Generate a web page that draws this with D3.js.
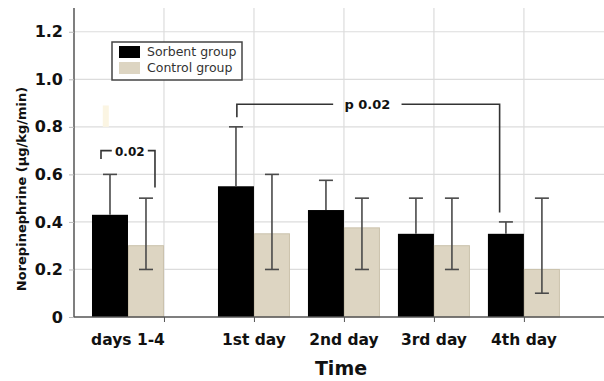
<!DOCTYPE html>
<html>
<head>
<meta charset="utf-8">
<script src="https://cdn.jsdelivr.net/npm/d3@7"></script>
<style>
  body { margin: 0; background: #fff; }
  svg { display: block; font-family: "DejaVu Sans", sans-serif; }
</style>
</head>
<body>
<svg id="chart" width="604" height="381"></svg>
<script>
// Data
const categories = ['days 1-4', '1st day', '2nd day', '3rd day', '4th day'];
const catPos = [-0.4, 1, 2, 3, 4];           // position on the time axis
const sorbent = [0.43, 0.55, 0.45, 0.35, 0.35];
const sorbentErrHi = [0.60, 0.80, 0.575, 0.50, 0.40];
const control = [0.30, 0.35, 0.375, 0.30, 0.20];
const controlErrLo = [0.20, 0.20, 0.20, 0.20, 0.10];
const controlErrHi = [0.50, 0.60, 0.50, 0.50, 0.50];
const yTicks = [0, 0.2, 0.4, 0.6, 0.8, 1.0, 1.2];
const xGrid = [0, 1, 2, 3, 4];
const seriesNames = ['Sorbent group', 'Control group'];

const colors = { sorbent: '#000000', control: '#ddd5c2', controlEdge: '#cbc2ac', err: '#4a4a4a' };

const svg = d3.select('#chart');
const margin = { left: 74, right: 0, top: 8, bottom: 64 };
const W = 604, H = 381;

const x = d3.scaleLinear().domain([-1, 4.89]).range([margin.left, W]);
const y = d3.scaleLinear().domain([0, 1.3]).range([H - margin.bottom, margin.top]);
const barW = x(0.4) - x(0);

// Grid
const grid = svg.append('g');
grid.selectAll('line.h')
    .data(yTicks.filter(d => d > 0))
    .enter().append('line')
    .attr('x1', x(-1)).attr('x2', W)
    .attr('y1', d => y(d)).attr('y2', d => y(d))
    .attr('stroke', '#dcdcdc').attr('stroke-width', 1.2);
grid.selectAll('line.v')
    .data(xGrid)
    .enter().append('line')
    .attr('x1', d => x(d)).attr('x2', d => x(d))
    .attr('y1', y(0)).attr('y2', y(1.3))
    .attr('stroke', '#dcdcdc').attr('stroke-width', 1.2);

// faint smudge in the original scan
svg.append('rect')
    .attr('x', x(-0.68)).attr('y', y(0.89))
    .attr('width', 6).attr('height', y(0.8) - y(0.89))
    .attr('fill', '#fbf5e3');

// Bars
const bars = svg.append('g');
bars.selectAll('rect.s')
    .data(sorbent)
    .enter().append('rect')
    .attr('x', (d, i) => x(catPos[i] - 0.4))
    .attr('y', d => y(d))
    .attr('width', barW)
    .attr('height', d => y(0) - y(d))
    .attr('fill', colors.sorbent);
bars.selectAll('rect.c')
    .data(control)
    .enter().append('rect')
    .attr('x', (d, i) => x(catPos[i]) + 0.5)
    .attr('y', d => y(d))
    .attr('width', barW - 1)
    .attr('height', d => y(0) - y(d))
    .attr('fill', colors.control)
    .attr('stroke', colors.controlEdge)
    .attr('stroke-width', 1);

// Error bars
const capW = 14;
const errs = svg.append('g').attr('stroke', colors.err).attr('stroke-width', 1.6).attr('fill', 'none');
sorbent.forEach((v, i) => {
    const cx = x(catPos[i] - 0.2);
    errs.append('line').attr('x1', cx).attr('x2', cx).attr('y1', y(v)).attr('y2', y(sorbentErrHi[i]));
    errs.append('line').attr('x1', cx - capW / 2).attr('x2', cx + capW / 2)
        .attr('y1', y(sorbentErrHi[i])).attr('y2', y(sorbentErrHi[i]));
});
control.forEach((v, i) => {
    const cx = x(catPos[i] + 0.2);
    errs.append('line').attr('x1', cx).attr('x2', cx).attr('y1', y(controlErrLo[i])).attr('y2', y(controlErrHi[i]));
    [controlErrLo[i], controlErrHi[i]].forEach(e => {
        errs.append('line').attr('x1', cx - capW / 2).attr('x2', cx + capW / 2)
            .attr('y1', y(e)).attr('y2', y(e));
    });
});

// Axes
const yAxis = svg.append('g')
    .attr('transform', `translate(${x(-1)},0)`)
    .call(d3.axisLeft(y).tickValues(yTicks).tickSize(5).tickPadding(6)
        .tickFormat(d => d === 0 ? '0' : d3.format('.1f')(d)));
yAxis.select('.domain').attr('d', `M0,${y(0)}V${y(1.3)}`).attr('stroke', '#555').attr('stroke-width', 1.5);
yAxis.selectAll('.tick line').attr('stroke', '#bbb');
yAxis.selectAll('.tick text')
    .attr('font-size', 16).attr('font-weight', 'bold').attr('fill', '#111')
    .attr('font-family', '"DejaVu Sans", sans-serif');

const xAxis = svg.append('g')
    .attr('transform', `translate(0,${y(0)})`)
    .call(d3.axisBottom(x).tickValues(xGrid).tickSize(5).tickFormat(''));
xAxis.select('.domain').attr('d', `M${x(-1)},0H${W}`).attr('stroke', '#555').attr('stroke-width', 1.5);
xAxis.selectAll('.tick line').attr('stroke', '#555');

svg.append('g').selectAll('text')
    .data(categories)
    .enter().append('text')
    .attr('x', (d, i) => x(catPos[i]))
    .attr('y', 345)
    .attr('text-anchor', 'middle')
    .attr('font-size', 15.5).attr('font-weight', 'bold').attr('fill', '#111')
    .text(d => d);

svg.append('text')
    .attr('x', 341).attr('y', 375)
    .attr('text-anchor', 'middle')
    .attr('font-size', 19).attr('font-weight', 'bold').attr('fill', '#111')
    .text('Time');

svg.append('text')
    .attr('transform', 'translate(26,189) rotate(-90)')
    .attr('text-anchor', 'middle')
    .attr('font-size', 13).attr('font-weight', 'bold').attr('fill', '#111')
    .text('Norepinephrine (µg/kg/min)');

// Significance brackets
const br = svg.append('g').attr('stroke', '#333').attr('stroke-width', 1.6).attr('fill', 'none');
function bracket(x1, x2, top, lo1, lo2, label, gap1, gap2, fs) {
    br.append('path').attr('d', `M${x(x1)},${y(lo1)}V${y(top)}H${x(gap1)}`);
    br.append('path').attr('d', `M${x(gap2)},${y(top)}H${x(x2)}V${y(lo2)}`);
    svg.append('text')
        .attr('x', (x(gap1) + x(gap2)) / 2).attr('y', y(top) + 5)
        .attr('text-anchor', 'middle')
        .attr('font-size', fs).attr('font-weight', 'bold').attr('fill', '#111')
        .text(label);
}
bracket(-0.7, -0.1, 0.70, 0.665, 0.545, '0.02', -0.58, -0.18, 12);
bracket(0.81, 3.73, 0.895, 0.84, 0.44, 'p 0.02', 1.88, 2.64, 13);

// Legend
const lg = svg.append('g').attr('transform', 'translate(112,42)');
lg.append('rect').attr('width', 130).attr('height', 38)
    .attr('fill', '#fff').attr('stroke', '#444').attr('stroke-width', 1.5);
const legendColors = [colors.sorbent, colors.control];
seriesNames.forEach((name, i) => {
    lg.append('rect').attr('x', 7).attr('y', 4 + i * 16).attr('width', 21).attr('height', 12)
        .attr('fill', legendColors[i]);
    lg.append('text').attr('x', 35).attr('y', 14 + i * 16)
        .attr('font-size', 12.5).attr('fill', '#333')
        .text(name);
});
</script>
</body>
</html>
